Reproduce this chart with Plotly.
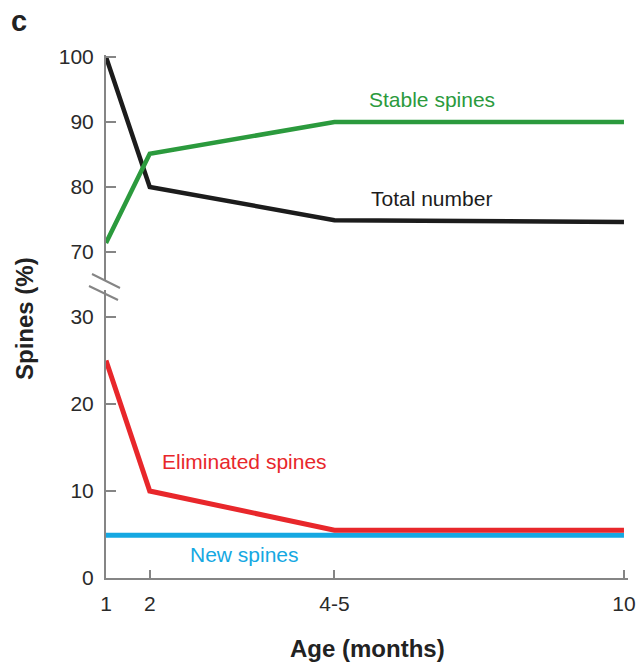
import plotly.graph_objects as go

# ---- data ----
age_labels = ["1", "2", "4-5", "10"]
age_pos = [1, 1.76, 4.97, 10]          # position of each age on the x axis
total_number = [100, 80, 74.9, 74.6]
stable_spines = [71.4, 85.1, 90, 90]
eliminated_spines = [25, 10, 5.5, 5.5]
new_spines = [4.9, 4.9, 4.9, 4.9]

# ---- style ----
GREEN = "#2b9a3d"
BLACK = "#1c1c1c"
RED = "#e8272b"
BLUE = "#15a8e2"
AXIS = "#858585"
FONT = "Liberation Sans, Arial, sans-serif"

W, H = 637, 664
ML, MR, MT, MB = 106, 9, 55, 86
PH = H - MT - MB
PW = W - ML - MR

def py(pix):  # pixel y -> paper y
    return (H - MB - pix) / PH

def px(pix):  # pixel x -> paper x
    return (pix - ML) / PW

fig = go.Figure()

fig.add_trace(go.Scatter(x=age_pos, y=total_number, mode="lines", yaxis="y2",
                         line=dict(color=BLACK, width=4.5), hoverinfo="skip"))
fig.add_trace(go.Scatter(x=age_pos, y=stable_spines, mode="lines", yaxis="y2",
                         line=dict(color=GREEN, width=4.5), hoverinfo="skip"))
fig.add_trace(go.Scatter(x=age_pos, y=new_spines, mode="lines", yaxis="y",
                         line=dict(color=BLUE, width=5), hoverinfo="skip"))
fig.add_trace(go.Scatter(x=age_pos, y=eliminated_spines, mode="lines", yaxis="y",
                         line=dict(color=RED, width=5), hoverinfo="skip"))

tickfont = dict(family=FONT, size=21, color="#2a2a2a")
common_y = dict(showgrid=False, zeroline=False, showline=True, linecolor=AXIS,
                linewidth=2, ticks="inside", ticklen=10, tickwidth=2,
                tickcolor=AXIS, tickfont=tickfont, ticklabelstandoff=6,
                anchor="x", automargin=False)

fig.update_layout(
    width=W, height=H,
    margin=dict(l=ML, r=MR, t=MT, b=MB),
    paper_bgcolor="white", plot_bgcolor="white",
    showlegend=False,
    xaxis=dict(range=[1, 10.07], tickvals=age_pos, ticktext=age_labels,
               showgrid=False, zeroline=False, showline=True, linecolor=AXIS,
               linewidth=2, ticks="inside", ticklen=8, tickwidth=2,
               tickcolor=AXIS, tickfont=tickfont, ticklabelstandoff=6,
               anchor="y", automargin=False),
    yaxis=dict(domain=[0, py(290)], range=[0, 33.1],
               tickvals=[0, 10, 20, 30], **common_y),
    yaxis2=dict(domain=[py(280), 1], range=[65.7, 100.3],
                tickvals=[70, 80, 90, 100], **common_y),
)

def note(x, y, text, color, size, xref, yref, angle=0):
    fig.add_annotation(x=x, y=y, xref=xref, yref=yref, text=text,
                       showarrow=False, textangle=angle,
                       xanchor="center", yanchor="middle",
                       font=dict(family=FONT, size=size, color=color))

note(6.66, 93.5, "Stable spines", GREEN, 21, "x", "y2")
note(6.66, 78.3, "Total number", BLACK, 21, "x", "y2")
note(3.41, 13.4, "Eliminated spines", RED, 21, "x", "y")
note(3.41, 2.75, "New spines", BLUE, 21, "x", "y")

# axis titles and panel letter
note(px(367), py(648), "<b>Age (months)</b>", "#222", 24, "paper", "paper")
note(px(24), py(319), "<b>Spines (%)</b>", "#222", 24, "paper", "paper", -90)
note(px(19), py(21), "<b>c</b>", "#222", 29, "paper", "paper")

# axis break marks
for (x0, y0, x1, y1) in [(92, 274, 120, 288), (89, 286, 118, 300)]:
    fig.add_shape(type="line", xref="paper", yref="paper",
                  x0=px(x0), y0=py(y0), x1=px(x1), y1=py(y1),
                  line=dict(color=AXIS, width=2))

fig.write_html("out.html", config={"displayModeBar": False},
               post_script="document.body.style.margin='0';")
